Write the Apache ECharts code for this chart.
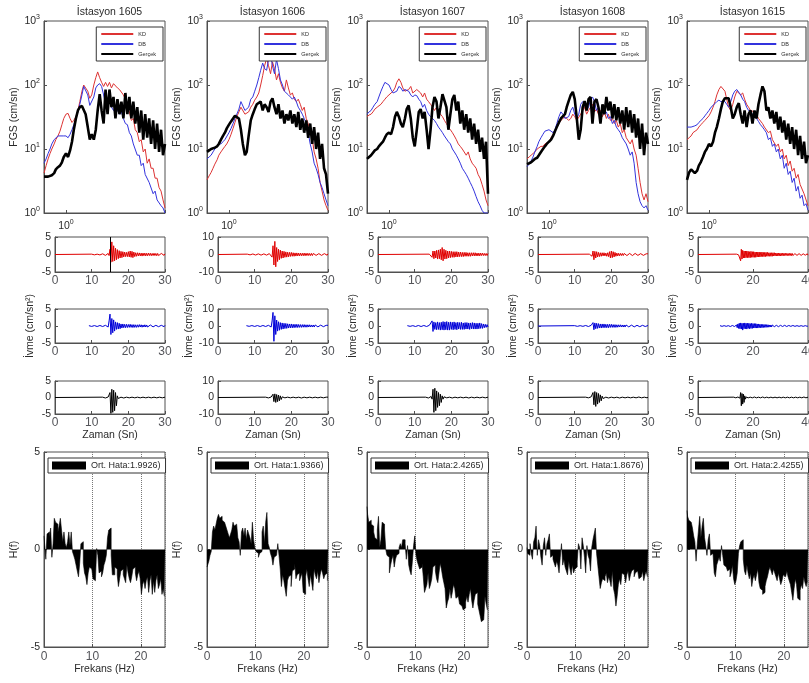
<!DOCTYPE html>
<html><head><meta charset="utf-8">
<script src="https://cdn.jsdelivr.net/npm/echarts@6/dist/echarts.min.js"></script>
<style>html,body{margin:0;padding:0;background:#fff}#c{width:809px;height:683px}</style>
</head><body><div id="c"></div>
<script>
// ---------------- DATA ----------------
const STATIONS = ['İstasyon 1605','İstasyon 1606','İstasyon 1607','İstasyon 1608','İstasyon 1615'];
const FGS_NAMES = ['KD','DB','Gerçek'];
const FGS_FREQ = [0.6,0.63,0.66,0.69,0.72,0.76,0.79,0.83,0.87,0.91,0.95,1.0,1.05,1.1,1.15,1.2,1.26,1.32,1.38,1.45,1.51,1.58,1.66,1.74,1.82,1.91,2.0,2.09,2.19,2.29,2.4,2.51,2.63,2.75,2.88,3.02,3.16,3.31,3.47,3.63,3.8,3.98,4.17,4.37,4.57,4.79,5.01,5.25,5.5,5.75,6.03,6.31,6.61,6.92,7.24,7.59,7.94,8.32,8.71,9.12,9.55,10.0];

const KD_1605 = [4.2,5.5,7,8.5,10,12,14,16,19,24,30,35,36,30,26,28,32,40,55,80,100,105,80,62,70,100,130,160,130,110,95,110,95,110,90,105,100,90,85,90,70,60,45,38,28,30,20,18,13,14,9,10,6,7,5,5,3.5,3.5,2.5,2.2,1.6,1.2];
const DB_1605 = [6,7,8.5,10,12,14,15,16,16,16,16,16,15,17,20,24,30,38,50,70,95,100,70,48,45,65,90,100,105,95,70,50,45,55,45,40,45,40,35,38,30,25,24,18,16,12,12,8,8,5.5,6,4,4,3,3,2,2.2,1.6,1.7,1.3,1.2,1.0];
const GR_1605 = [3.7,3.7,3.7,3.8,3.9,4.2,4.8,5.2,5.5,6.2,7.5,8.5,7.5,9.5,13,20,30,40,45,47,45,35,22,14,17,14,20,40,72,40,25,85,35,85,45,65,30,60,35,55,30,75,35,65,30,55,25,45,18,40,14,35,15,30,12,28,10,25,9,20,8,12];

const KD_1606 = [3.3,3.8,4.3,5,5.8,6.8,8,9,10,11,12,14,17,21,26,32,38,45,42,35,33,38,45,50,58,65,75,100,140,200,260,200,150,230,180,120,150,110,90,80,120,90,70,75,60,55,60,50,40,45,30,25,18,15,9,7,5,3,2.2,1.6,1.3,1.1];
const DB_1606 = [7,7.5,8,9,10,11,12,12,13,14,15,18,21,25,30,35,42,55,52,40,38,45,60,65,80,100,130,170,220,180,170,250,300,200,150,250,180,120,100,80,75,70,65,60,65,55,45,40,35,30,25,18,12,9,6,5,4,3,2.5,2,1.6,1.3];
const GR_1606 = [9,9.5,10,10,10.5,11,12,14,16,18,21,24,27,30,33,34,30,20,12,8,9,16,28,35,42,50,48,55,40,50,45,38,55,62,45,35,50,30,40,25,35,28,40,25,35,22,38,20,30,18,28,15,25,12,22,10,18,7,12,5,4,2];

const KD_1607 = [32,34,35,38,42,45,48,50,55,60,65,70,75,80,90,110,125,110,90,80,75,85,95,75,70,85,80,75,65,75,60,55,50,45,40,45,38,35,32,28,25,22,20,18,16,14,12,11,10,10,8,9,7,6,5.5,5,4,3.5,2.8,2.2,1.6,1.3];
const DB_1607 = [35,38,40,45,50,55,65,80,95,110,115,100,85,75,70,80,95,90,80,85,90,80,70,65,70,68,60,55,45,50,40,35,32,30,28,25,22,20,18,16,15,13,12,10,9,8,7,6,5,4.5,4,3.5,3,2.6,2.2,1.8,1.5,1.3,1.1,1,1,1];
const GR_1607 = [7,7.5,8,8.5,9.5,10,11,12,13,15,17,18,17,22,32,38,32,25,22,30,42,48,30,15,11,20,38,42,30,38,20,10,20,45,65,55,30,45,72,75,45,20,35,60,70,40,55,25,40,20,35,18,30,14,25,12,20,9,15,7,13,2];

const KD_1608 = [7,7.5,8,8.5,9,10,10,11,11,12,12,13,15,17,20,22,25,28,30,32,30,28,30,35,32,28,30,35,40,45,35,40,45,50,38,42,35,40,32,38,30,35,28,30,25,28,22,25,18,20,15,16,12,14,10,8,5,3,2,1.6,2,1.5];
const DB_1608 = [5.3,5.8,6.5,7.5,9,11,13,15,17,19,20,20,19,18,20,25,32,38,35,30,28,32,40,45,35,30,35,50,55,50,40,45,60,65,55,40,45,35,40,35,38,30,32,25,28,22,20,18,15,14,12,10,8,9,6,3,2,1.5,1.3,1.2,1.3,1.1];
const GR_1608 = [5.8,6,6.2,6.5,7,7.3,8,9,10,11,12,13,14,16,19,22,26,30,32,35,45,56,70,78,60,30,14,20,45,56,40,60,65,25,55,60,45,25,50,35,65,40,55,30,50,28,45,25,40,20,45,22,40,18,35,15,30,10,25,8,18,12];

const KD_1615 = [14,15,16,18,19,20,22,24,26,28,30,33,38,45,55,70,85,95,100,80,60,45,40,50,65,80,85,70,75,60,50,45,40,42,38,35,30,28,25,22,22,18,19,14,15,11,12,9,10,7,8,5.5,6.5,4.5,5,3.5,4,2.8,3,2,2,1.3];
const DB_1615 = [22,22,22,22,23,24,26,28,30,33,36,40,45,48,50,55,58,55,58,55,50,45,55,70,80,85,80,70,60,55,45,40,38,35,32,30,27,24,22,20,18,14,15,11,12,9,10,7,8,5,6,4,4.5,3,3.5,2.2,2.6,1.7,1.9,1.3,1.4,1.1];
const GR_1615 = [3.3,4.3,4.8,4.5,4.2,4.6,5.5,6.3,7.5,9,10,12,11,13,18,22,30,42,55,62,60,62,45,30,35,45,52,35,25,40,22,35,40,25,40,30,50,70,95,80,40,45,30,40,25,38,20,32,18,28,14,25,12,22,10,20,8,16,7,13,6,8];

// Acceleration traces (cm/sn^2), sampled every TS_DT seconds from the given start time
const TS_DT = 0.25;
const TS_T_MAX = [30,30,30,30,40];
const TS_Y_MAX = [5,10,5,5,5];
const MARK_T_1605 = 15;

const ACC_KD_1605_T0 = 10;
const ACC_KD_1605 = [.1,-.15,.12,-.1,.15,-.12,.1,-.15,.18,-.12,.15,-.2,.2,-.15,.2,-.25,.25,-.2,.3,-.3,
1.5,-2.2,3.6,-2,2.5,-1.8,1.8,-1.5,1.4,-1.2,1.1,-1,.9,-.9,.8,-.7,.7,-.6,.6,-.6,
.8,-.7,1,-.8,.9,-.9,.7,-.6,.5,-.5,.5,-.4,.45,-.4,.4,-.45,.4,-.35,.4,-.4,
.35,-.35,.4,-.3,.35,-.35,.3,-.3,.35,-.3,.3,-.35,.3,-.3,.25,-.3,.3,-.25,.3,-.25,.2];
const ACC_DB_1605_T0 = 9.25;
const ACC_DB_1605 = [.1,-.1,.15,-.12,.1,-.15,.12,-.1,.15,-.15,.1,-.12,.15,-.1,.12,-.15,.15,-.2,.2,-.15,.25,-.3,
1.5,3.5,-2.5,2.2,-2,1.8,-1.5,1.2,-1,1,-.9,.8,-.8,
.6,-.6,.6,-.5,.5,-.5,.5,-.45,.45,-.4,.5,-.4,.4,-.45,.4,-.4,.35,-.4,.35,-.35,
.4,-.3,.35,-.35,.3,-.3,.35,-.3,.3,-.3,.25,-.3,.3,-.25,.3,-.25,.25,-.25,.2,-.25,
.25,-.2,.25,-.2,.2,-.2,.2,-.2,.2];
const ACC_GR_1605_T0 = 13;
const ACC_GR_1605 = [.1,-.1,.1,-.15,.1,-.1,.15,-.3,
1.5,-4.8,2.5,-4.5,2.2,-4,1.5,-2.5,.5,-.3,
.15,-.1,.1,-.1,.1,-.15,.1,-.1,.1,-.1,.1,-.1,.15,-.1,.1,-.1,.1,-.1,.1,-.15,
.1,-.1,.1,-.1,.15,-.1,.1,-.1,.1,-.1,.1,-.1,.1,-.15,.1,-.1,.1,-.1,.1,-.1,
.1,-.1,.1,-.1,.1,-.1,.1,-.1,.1,-.1,.1];

const ACC_KD_1606_T0 = 8;
const ACC_KD_1606 = [.2,-.3,.3,-.2,.25,-.3,.3,-.25,.3,-.3,.25,-.3,.35,-.3,.3,-.35,.3,-.3,.35,-.3,.4,-.35,.4,-.4,.5,-.5,.6,
-1.5,5,-6,7.5,-7,4,-4,3,-3,2.5,-2.2,2,-2,
1.8,-1.6,1.5,-1.5,1.3,-1.3,1.2,-1.1,1.2,-1,1,-1,.9,-.9,.9,-.8,.8,-.8,.8,-.7,
.7,-.7,.8,-.7,.7,-.6,.7,-.6,.6,-.6,.6,-.6,.6,-.5,.6,-.5,.6,-.5,.5,-.5,
.5,-.5,.5,-.4,.5,-.4,.4,-.4,.4];
const ACC_DB_1606_T0 = 7.75;
const ACC_DB_1606 = [.2,-.25,.3,-.2,.3,-.3,.25,-.3,.3,-.25,.3,-.3,.25,-.3,.35,-.3,.3,-.35,.3,-.3,.35,-.3,.4,-.35,.4,-.4,.5,-.6,
3,8,-9,6,-5,3.5,-3,2.5,-2.5,2,-2,1.8,-1.8,
1.6,-1.5,1.5,-1.4,1.3,-1.2,1.2,-1.1,1.2,-1.1,1,-1,1,-.9,1,-.9,.9,-.8,.8,-.8,
.8,-.7,.8,-.7,.7,-.7,.7,-.6,.7,-.6,.6,-.6,.6,-.6,.6,-.5,.6,-.5,.5,-.5,
.5,-.5,.5,-.4,.5,-.4,.4,-.4,.4];
const ACC_GR_1606_T0 = 13;
const ACC_GR_1606 = [.2,-.2,.2,-.25,.2,-.2,.3,-.3,
2,-2.5,2.2,-3,1.8,-2.5,1.5,-2,1,-1.2,.4,-.3,
.3,-.2,.2,-.3,.2,-.2,.3,-.2,.2,-.3,.2,-.2,.2,-.2,.3,-.2,.2,-.2,.2,-.3,
.2,-.2,.2,-.2,.3,-.2,.2,-.2,.2,-.2,.3,-.2,.2,-.2,.2,-.3,.2,-.2,.2,-.2,
.2,-.2,.2,-.2,.3,-.2,.2,-.2,.2];

const ACC_KD_1607_T0 = 14;
const ACC_KD_1607 = [.1,-.1,.5,-.8,
1,-1.2,1,-1,1.2,-1.3,1.3,-1.2,1.5,-1.5,2,-1.8,
1.5,-1.3,1.2,-1.2,1,-1,1,-.9,.9,-.8,.8,-.8,.8,-.7,.8,-.7,.7,-.6,.7,-.6,
.6,-.6,.6,-.5,.6,-.5,.5,-.5,.5,-.5,.5,-.4,.5,-.4,.5,-.4,.4,-.4,.4,-.4,
.4,-.3,.4,-.3,.3,-.3,.3,-.3,.3];
const ACC_DB_1607_T0 = 8;
const ACC_DB_1607 = [.1,-.15,.15,-.1,.2,-.15,.1,-.2,.15,-.15,.2,-.1,.15,-.2,.15,-.15,.2,-.15,.15,-.2,.2,-.15,.2,-.2,.2,-.25,.3,
1.5,-1.6,1.2,-1,1,-1.1,1.2,-1,1,-1.2,1.1,-1.1,1.3,
-1.2,1.2,-1.1,1.3,-1.2,1.1,-1.2,1.2,-1,1.1,-1.1,1.2,-1,1,-1.1,1.1,-.9,1,-1,1.1,
-1,.9,-1,1,-.9,1,-.9,.9,-1,.9,-.8,1,-.9,.9,-.9,.8,-.9,.8,-.8,.9,
-.7,.7,-.7,.6,-.5,.5,-.4,.4,-.3];
const ACC_GR_1607_T0 = 13;
const ACC_GR_1607 = [.1,-.1,.15,-.15,.2,-.2,.3,-.5,
2.5,-4.5,2.8,-4,2,-3,1.5,-2.5,1,-1.5,.5,-.5,
.2,-.1,.1,-.1,.15,-.1,.1,-.1,.1,-.15,.1,-.1,.1,-.1,.15,-.1,.1,-.1,.1,-.1,
.1,-.1,.15,-.1,.1,-.1,.1,-.15,.1,-.1,.1,-.1,.1,-.1,.15,-.1,.1,-.1,.1,-.1,
.1,-.1,.1,-.1,.1,-.1,.1,-.1,.1];

const ACC_KD_1608_T0 = 14;
const ACC_KD_1608 = [.1,-.1,.3,-.5,
1,-1.5,.9,-1,.8,-.7,.6,-.6,.5,-.5,.5,-.4,
.5,-.4,.4,-.5,.5,-.6,.8,-1,1,-.9,.8,-.7,.6,-.5,.4,-.4,.35,-.35,.3,-.3,
.3,-.3,.3,-.25,.3,-.3,.25,-.3,.3,-.25,.25,-.3,.25,-.25,.3,-.25,.25,-.25,.25,-.2,
.25,-.2,.2,-.25,.2,-.2,.2,-.2,.2];
const ACC_DB_1608_T0 = 10;
const ACC_DB_1608 = [.1,-.15,.1,-.1,.15,-.1,.1,-.15,.1,-.1,.15,-.1,.15,-.15,.1,-.15,.15,-.1,.2,-.2,
1,-1.1,.9,-.8,.8,-.7,.7,-.6,.6,-.6,.6,-.5,
.6,-.5,.5,-.5,.5,-.5,.5,-.4,.5,-.4,.4,-.4,.4,-.4,.35,-.35,.35,-.3,.35,-.3,
.3,-.3,.3,-.3,.3,-.25,.3,-.25,.25,-.25,.25,-.25,.2,-.25,.2,-.2,.2,-.2,.2,-.2,
.2,-.15,.2,-.15,.15,-.15,.15,-.15,.15];
const ACC_GR_1608_T0 = 13;
const ACC_GR_1608 = [.1,-.1,.1,-.1,.15,-.15,.2,-.3,
1.5,-2.2,1.8,-2.7,1.5,-2,1.2,-1.5,.8,-1,.4,-.3,
.15,-.1,.1,-.1,.1,-.15,.1,-.1,.1,-.1,.15,-.1,.1,-.1,.1,-.1,.1,-.15,.1,-.1,
.1,-.1,.1,-.1,.15,-.1,.1,-.1,.1,-.1,.1,-.15,.1,-.1,.1,-.1,.1,-.1,.15,-.1,
.1,-.1,.1,-.1,.1,-.1,.1,-.1,.1];

const ACC_KD_1615_T0 = 14;
const ACC_KD_1615 = [.1,-.1,.1,-.1,.2,-.3,
-1.8,1.5,-1.3,1.2,-1,1,-1,1,-.9,1,
-.9,.9,-.9,.8,-.9,.9,-.8,.8,-.8,.8,-.8,.7,-.8,.7,-.7,.7,-.7,.7,-.7,.6,
-.6,.7,-.6,.6,-.6,.6,-.6,.6,-.5,.6,-.5,.5,-.5,.5,-.5,.5,-.5,.5,-.4,.5,
-.4,.4,-.4,.4,-.4,.4,-.4,.35,-.4,.35,-.35,.35,-.35,.35,-.3,.35,-.3,.3,-.3,.3,
-.3,.3,-.3,.3,-.3,.3,-.3,.25,-.3,.25,-.25,.25,-.25,.25,-.25,.25,-.25,.25,-.25,.25,
-.25,.2,-.25,.2,-.2,.2,-.2,.2,-.2];
const ACC_DB_1615_T0 = 8;
const ACC_DB_1615 = [.1,-.1,.15,-.1,.1,-.15,.1,-.1,.15,-.1,.1,-.15,.1,-.1,.15,-.15,.1,-.1,.15,-.1,.15,-.15,.2,-.2,.3,
-.5,.6,-.7,.8,-.8,.9,-.9,.8,-1.2,.8,-.8,.9,-.8,.8,-.9,.8,-.7,.8,-.8,.7,
-.7,.8,-.7,.7,-.6,.7,-.6,.7,-.6,.6,-.6,.6,
-.5,.5,-.5,.5,-.5,.45,-.45,.45,-.4,.4,-.4,.4,-.35,.35,-.35,.3,-.3,.3,-.3,.3,
-.25,.25,-.2,.2,-.2,.2,-.2,.2,-.2,.15,-.15,.2,-.15,.15,-.15,.15,-.15,.2,-.15,.15,
-.15,.15,-.15,.15,-.15,.15,-.1,.15,-.1,.15,-.1,.15,-.1,.1,-.1,.1,-.1,.1,-.1,.1,-.1,.1,-.1,.1,-.1,.1,-.1,.1,-.1,.1,-.1,.1];
const ACC_GR_1615_T0 = 13;
const ACC_GR_1615 = [.1,-.1,.1,-.1,.1,-.1,.15,-.1,.15,-.2,
1.5,-2.5,1.2,-2,1,-1.5,.5,-.5,
.15,-.1,.1,-.1,.1,-.1,.1,-.15,.1,-.1,.1,-.1,.15,-.1,.1,-.1,.1,-.1,.1,-.1,
.1,-.1,.1,-.1,.15,-.1,.1,-.1,.1,-.1,.1,-.15,.1,-.1,.1,-.1,.1,-.1,.15,-.1,
.1,-.1,.1,-.1,.1,-.1,.15,-.1,.1,-.1,.1,-.1,.1,-.15,.1,-.1,.1,-.1,.1,-.1,
.1,-.1,.15,-.1,.1,-.1,.1,-.1,.1,-.1,.1,-.15,.1,-.1,.1,-.1,.1,-.1,.1,-.1,
.1,-.1,.1,-.1,.15,-.1,.1,-.1,.1,-.1,.1];

// Transfer function error H(f), sampled every H_STEP Hz from 0 to 25 Hz
const H_STEP = 0.25;
const ORT_HATA = ['1.9926','1.9366','2.4265','1.8676','2.4255'];
const H_1605 = [0.7,0.6,-0.5,0.8,0.9,0.6,1.1,-0.4,0.3,1.6,
1.4,1.3,0.9,1.2,1.6,1.0,0.4,0.9,0.3,0.1,
0.4,0.9,0.2,0.9,-0.1,-0.3,-0.5,-0.8,-1.1,-1.4,
-0.7,0.3,0.4,-0.7,-1.2,-1.4,-1.8,-1.2,-0.9,-1.0,
-1.0,-1.5,-1.6,-1.7,0.05,-0.3,-1.2,-1.1,-1.4,-1.2,
-0.8,-0.6,-0.3,0.6,1.0,1.1,-0.3,-1.3,-1.3,-0.9,
-1.0,-1.3,-1.9,-1.5,-1.1,-1.0,-1.3,-1.5,-1.7,-0.8,
-1.2,-1.5,-1.7,-1.4,-1.0,-0.9,-1.2,-1.6,-1.3,-1.1,
-1.5,-2.3,-1.8,-1.6,-2.0,-1.6,-1.4,-2.2,-1.6,-1.3,
-2.3,-1.6,-2.2,-1.6,-1.3,-2.0,-1.8,-1.5,-2.3,-2.0,-2.4];
const H_1606 = [-0.9,-0.9,-0.6,-0.3,-0.1,0.9,1.2,1.0,1.3,1.6,
1.8,1.6,1.7,1.5,1.4,1.5,1.2,1.0,0.8,0.6,
0.8,1.0,1.4,1.2,1.3,1.3,0.6,0.4,-0.3,0.9,
1.1,0.7,1.1,0.5,1.0,0.8,0.6,0.3,1.4,0.5,
0.1,-0.1,-0.2,-0.4,-0.2,-0.1,0.9,1.2,0.3,1.4,
1.9,0.3,0.1,-0.2,-0.4,-0.8,-0.4,-0.3,-0.2,0.3,
-0.3,-1.0,-1.9,-1.3,-1.6,-2.0,-2.4,-1.6,-1.4,-1.3,
-1.9,-1.1,-1.0,-0.7,-1.5,-1.3,-1.2,-1.6,-1.4,-1.2,
-2.2,-2.3,-1.4,-1.0,-1.5,-1.9,-1.3,-1.7,-2.1,-1.0,
-1.3,-1.5,-1.1,-1.7,-1.3,-1.0,-1.2,-1.5,-1.3,-1.2,-1.6];
const H_1607 = [2.2,1.8,1.4,1.5,1.3,1.2,0.9,0.6,0.5,1.0,
1.7,0.1,0.5,1.4,1.3,1.0,0.0,-0.3,-0.4,-1.2,
-0.8,-0.5,-0.3,-0.9,-0.5,-0.3,-0.2,0.1,0.3,0.1,
0.5,0.5,0.3,-0.5,0.2,-0.8,-1.1,-1.3,-0.6,0.2,
0.7,-0.3,-0.6,-0.8,-1.0,-0.9,-0.7,-1.4,-2.2,-2.0,
-1.8,-1.2,-2.0,-1.8,-1.5,-0.9,-0.8,-1.1,-1.5,-1.7,
-1.2,-0.7,-1.0,-1.4,-1.7,-2.0,-3.0,-2.7,-2.5,-2.0,
-2.5,-2.2,-1.8,-2.0,-2.5,-2.4,-2.3,-2.8,-2.9,-3.0,
-3.1,-3.0,-2.7,-2.4,-2.7,-2.3,-2.0,-2.6,-3.0,-2.6,
-2.3,-2.2,-2.8,-3.1,-3.4,-3.7,-3.6,-3.5,-2.4,-2.8,-3.1];
const H_1608 = [0.1,-0.2,-0.3,0.3,-0.2,-0.5,0.4,0.6,1.2,-0.3,
0.5,0.2,-0.4,-0.8,0.2,0.6,-0.3,0.3,0.5,0.8,
-0.4,-0.3,-0.5,-0.7,-0.9,-0.6,-0.8,-1.2,-0.4,0.3,
-0.8,-0.5,-0.9,-1.1,-1.3,-0.6,-1.0,-1.3,-0.8,-1.2,
-1.0,-0.9,-0.6,0.3,0.1,-1.0,0.6,0.2,-0.4,-1.2,
0.2,-0.3,-0.5,-1.1,0.1,0.5,0.8,1.1,-0.2,-0.8,
-1.4,-2.0,-1.7,-1.5,-1.6,-1.4,-1.2,-1.7,-1.4,-1.6,
-1.9,-1.1,-2.0,-2.3,-2.9,-2.4,-1.8,-1.5,-1.8,-1.2,
-1.3,-1.4,-1.7,-1.3,-1.1,-1.6,-1.3,-1.1,-1.0,-1.4,
-1.2,-1.1,-1.0,-1.5,-1.4,-1.3,-1.1,-1.6,-1.3,-1.1,-1.4];
const H_1615 = [2.0,1.7,1.5,1.4,1.3,1.1,0.7,0.4,-0.6,0.3,
1.0,1.7,0.6,1.2,1.6,0.6,0.2,-0.3,0.5,0.8,
-0.3,-0.2,-0.1,-1.2,-1.4,-0.8,-0.6,-0.4,-0.6,0.2,
-0.3,-0.8,-0.9,-1.0,-1.1,-1.0,-1.4,-1.2,-0.8,-1.5,
-1.8,-1.6,-1.2,-0.2,0.2,0.4,0.5,-0.5,-1.1,-1.3,
-0.8,-1.2,-1.5,-1.2,-1.9,-1.5,-1.3,-1.6,-1.3,-1.0,
-1.7,-2.0,-2.1,-2.3,-2.2,-1.9,-1.6,-1.4,-1.1,-0.9,
-1.1,-1.3,-1.0,-1.2,-1.4,-1.6,-1.2,-1.5,-1.8,-1.6,
-1.3,-1.4,-1.5,-1.1,-1.4,-1.6,-1.8,-2.2,-2.6,-2.0,
-1.5,-1.8,-2.5,-2.6,-2.1,-1.8,-2.0,-1.4,-1.7,-1.9,-1.6];

// ---------------- ASSEMBLY ----------------
const FGS = [[KD_1605,DB_1605,GR_1605],[KD_1606,DB_1606,GR_1606],[KD_1607,DB_1607,GR_1607],[KD_1608,DB_1608,GR_1608],[KD_1615,DB_1615,GR_1615]];
const ACC = [
  [[ACC_KD_1605_T0,ACC_KD_1605,true],[ACC_DB_1605_T0,ACC_DB_1605,false],[ACC_GR_1605_T0,ACC_GR_1605,true]],
  [[ACC_KD_1606_T0,ACC_KD_1606,true],[ACC_DB_1606_T0,ACC_DB_1606,false],[ACC_GR_1606_T0,ACC_GR_1606,true]],
  [[ACC_KD_1607_T0,ACC_KD_1607,true],[ACC_DB_1607_T0,ACC_DB_1607,false],[ACC_GR_1607_T0,ACC_GR_1607,true]],
  [[ACC_KD_1608_T0,ACC_KD_1608,true],[ACC_DB_1608_T0,ACC_DB_1608,true],[ACC_GR_1608_T0,ACC_GR_1608,true]],
  [[ACC_KD_1615_T0,ACC_KD_1615,true],[ACC_DB_1615_T0,ACC_DB_1615,false],[ACC_GR_1615_T0,ACC_GR_1615,true]]
];
const HF = [H_1605,H_1606,H_1607,H_1608,H_1615];

const FONT = 'Liberation Sans, Arial, sans-serif';
const TXT = '#2a2a2a';
const AX = '#505050';
const COL_LEFT = [44, 207, 367, 527, 687];
const PLOT_W = 121;
const TS_OFF = 11;
const ROWS = [{top:21,h:192},{top:237,h:35},{top:309,h:34},{top:381,h:33},{top:452,h:195}];
const FGS_COLORS = ['#dd3333','#3333dd','#000000'];
const FGS_WIDTH = [1,1,2.6];
const ACC_COLORS = ['#e00000','#0000d8','#000000'];

const rich = {b:{fontSize:10.5,color:TXT,fontFamily:FONT}, e:{fontSize:7,color:TXT,fontFamily:FONT,padding:[0,0,8,0]}};
function supLabel(v){ const e = Math.round(Math.log10(v)); return '{b|10}{e|'+e+'}'; }

const grids=[], xAxes=[], yAxes=[], series=[], legends=[], titles=[];
function baseAxis(extra){
  return Object.assign({
    axisLine:{show:true,onZero:false,lineStyle:{color:AX,width:1}},
    axisTick:{show:true,inside:true,length:3,lineStyle:{color:AX}},
    splitLine:{show:false},
    axisLabel:{color:TXT,fontSize:10.5,fontFamily:FONT,margin:4},
    nameTextStyle:{color:TXT,fontSize:10.5,fontFamily:FONT}
  }, extra);
}
function addGrid(left, r, w){
  grids.push({left:left, top:ROWS[r].top, width:w, height:ROWS[r].h, show:true, borderColor:AX, borderWidth:1, backgroundColor:'#fff', containLabel:false, outerBoundsMode:'none'});
  return grids.length-1;
}

for (let c=0;c<5;c++){
  const L = COL_LEFT[c];
  titles.push({text:STATIONS[c], left:L+PLOT_W/2, top:2, textAlign:'center', textStyle:{fontSize:10.5,fontWeight:'normal',color:TXT,fontFamily:FONT}});
  // Row 0: FGS spectra
  let g = addGrid(L,0,PLOT_W);
  xAxes.push(baseAxis({gridIndex:g,type:'log',logBase:10,min:0.6,max:10,
    axisLabel:{margin:6,formatter:v=>Math.abs(v-1)<1e-6?supLabel(v):'',rich:rich}}));
  yAxes.push(baseAxis({gridIndex:g,type:'log',logBase:10,min:1,max:1000,name:'FGS (cm/sn)',nameLocation:'middle',nameGap:24,
    axisLabel:{margin:4,formatter:supLabel,rich:rich}}));
  for (let s=0;s<3;s++){
    series.push({type:'line',name:FGS_NAMES[s],xAxisIndex:g,yAxisIndex:g,symbol:'none',showSymbol:false,silent:true,
      data:FGS_FREQ.map((f,i)=>[f,FGS[c][s][i]]),
      lineStyle:{color:FGS_COLORS[s],width:FGS_WIDTH[s]},itemStyle:{color:FGS_COLORS[s]}});
  }
  legends.push({orient:'vertical',right:809-(L+PLOT_W-2),top:27,data:FGS_NAMES,itemWidth:32,itemHeight:6,itemGap:4,
    padding:[4,7,4,4],borderColor:'#333',borderWidth:1,backgroundColor:'#fff',selectedMode:false,
    itemStyle:{opacity:0},
    textStyle:{fontSize:5.5,color:TXT,fontFamily:FONT}});
  // Rows 1-3: acceleration traces
  for (let s=0;s<3;s++){
    g = addGrid(L+TS_OFF,s+1,PLOT_W-TS_OFF);
    const tmax=TS_T_MAX[c], ymax=TS_Y_MAX[c];
    xAxes.push(baseAxis({gridIndex:g,type:'value',min:0,max:tmax,interval:tmax===40?20:10,
      axisLabel:{margin:3},
      name:s===2?'Zaman (Sn)':'',nameLocation:'middle',nameGap:15}));
    yAxes.push(baseAxis({gridIndex:g,type:'value',min:-ymax,max:ymax,interval:ymax,
      name:s===1?'İvme (cm/sn²)':'',nameLocation:'middle',nameGap:19}));
    const [t0,vals,fromZero]=ACC[c][s];
    const data = fromZero?[[0,0]]:[];
    vals.forEach((v,i)=>data.push([t0+i*TS_DT,v]));
    const ser = {type:'line',name:'acc'+c+s,xAxisIndex:g,yAxisIndex:g,symbol:'none',silent:true,data:data,
      lineStyle:{color:ACC_COLORS[s],width:1},itemStyle:{color:ACC_COLORS[s]}};
    if (c===0 && s===0){
      ser.markLine={symbol:'none',silent:true,label:{show:false},lineStyle:{color:'#000',type:'solid',width:1},data:[{xAxis:MARK_T_1605}]};
    }
    series.push(ser);
  }
  // Row 4: H(f)
  g = addGrid(L,4,PLOT_W);
  xAxes.push(baseAxis({gridIndex:g,type:'value',min:0,max:25,interval:10,
    axisLabel:{margin:4,showMaxLabel:false,formatter:v=>(v%10===0?String(v):'')},
    splitLine:{show:true,lineStyle:{color:'#777',type:'dotted',width:1}},
    name:'Frekans (Hz)',nameLocation:'middle',nameGap:16}));
  yAxes.push(baseAxis({gridIndex:g,type:'value',min:-5,max:5,interval:5,name:'H(f)',nameLocation:'middle',nameGap:24}));
  const hname='Ort. Hata:'+ORT_HATA[c]+')';
  series.push({type:'line',name:hname,xAxisIndex:g,yAxisIndex:g,symbol:'none',silent:true,step:'middle',
    data:HF[c].map((v,i)=>[i*H_STEP,v]),
    lineStyle:{color:'#000',width:0.6},areaStyle:{color:'#000',opacity:1},itemStyle:{color:'#000'}});
  legends.push({left:L+4,top:458,data:[{name:hname,icon:'rect'}],itemWidth:34,itemHeight:8,itemGap:5,
    padding:[3,5,3,4],borderColor:'#333',borderWidth:1,backgroundColor:'#fff',selectedMode:false,
    textStyle:{fontSize:9,color:TXT,fontFamily:FONT}});
}

const chart = echarts.init(document.getElementById('c'), null, {renderer:'canvas'});
chart.setOption({
  animation:false,
  backgroundColor:'#fff',
  textStyle:{fontFamily:FONT},
  title:titles, grid:grids, xAxis:xAxes, yAxis:yAxes, legend:legends, series:series
});
</script></body></html>
